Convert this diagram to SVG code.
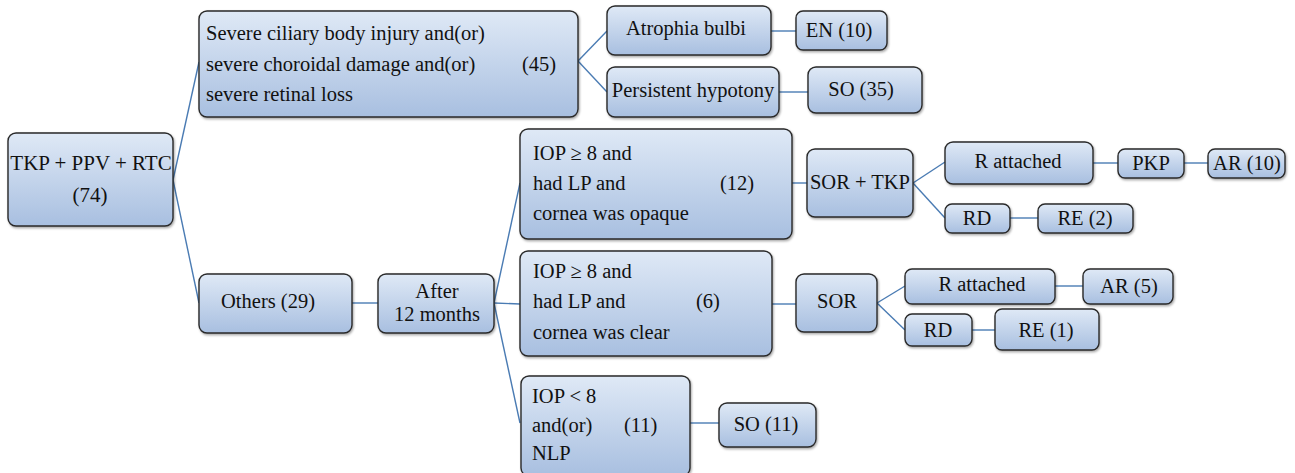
<svg xmlns="http://www.w3.org/2000/svg" width="1295" height="473" viewBox="0 0 1295 473">
<defs>
<linearGradient id="g" x1="0" y1="0" x2="0" y2="1">
<stop offset="0" stop-color="#dfe9f6"/>
<stop offset="1" stop-color="#a8bfe0"/>
</linearGradient>
<filter id="sh" x="-10%" y="-10%" width="130%" height="130%">
<feDropShadow dx="1" dy="1.5" stdDeviation="1" flood-color="#000" flood-opacity="0.35"/>
</filter>
</defs>
<style>
.b{fill:url(#g);stroke:#2a2a2a;stroke-width:1.4;filter:url(#sh)}
text{font-family:'Liberation Serif','Times New Roman',serif;font-size:20.5px;fill:#111}
.c{text-anchor:middle}
#connectors line{stroke:#4a7bb3;stroke-width:1.4}
</style>
<rect width="1295" height="473" fill="#fff"/>
<g id="connectors">
<line x1="173" y1="180" x2="199" y2="62"/>
<line x1="173" y1="180" x2="199" y2="303"/>
<line x1="578" y1="61" x2="607" y2="31"/>
<line x1="578" y1="61" x2="607" y2="92"/>
<line x1="771" y1="31" x2="796" y2="31"/>
<line x1="779" y1="92" x2="808" y2="92"/>
<line x1="352" y1="303" x2="378" y2="303"/>
<line x1="494" y1="303" x2="520" y2="183"/>
<line x1="494" y1="303" x2="520" y2="304"/>
<line x1="494" y1="303" x2="520" y2="423"/>
<line x1="792" y1="183" x2="807" y2="183"/>
<line x1="913" y1="183" x2="945" y2="162"/>
<line x1="913" y1="183" x2="945" y2="218"/>
<line x1="1093" y1="163" x2="1118" y2="163"/>
<line x1="1184" y1="163" x2="1208" y2="163"/>
<line x1="1010" y1="218" x2="1038" y2="218"/>
<line x1="772" y1="304" x2="796" y2="304"/>
<line x1="877" y1="303" x2="905" y2="286"/>
<line x1="877" y1="303" x2="905" y2="330"/>
<line x1="1055" y1="286" x2="1083" y2="286"/>
<line x1="972" y1="330" x2="995" y2="330"/>
<line x1="690" y1="423" x2="719" y2="423"/>
</g>
<g id="root"><rect class="b" x="8" y="133" width="165" height="93" rx="8"/><text class="c" x="91" y="170" style="font-size:21px">TKP + PPV + RTC</text><text class="c" x="90" y="202" style="font-size:21px">(74)</text></g>
<g id="severe"><rect class="b" x="199" y="11" width="379" height="106" rx="8"/>
<text x="206" y="40">Severe ciliary body injury and(or)</text>
<text x="206" y="71">severe choroidal damage and(or)</text>
<text x="206" y="101">severe retinal loss</text>
<text x="522" y="71">(45)</text></g>
<g id="atrophia"><rect class="b" x="607" y="6" width="164" height="49" rx="8"/><text class="c" x="686" y="35">Atrophia bulbi</text></g>
<g id="en10"><rect class="b" x="796" y="11" width="91" height="39" rx="7"/><text class="c" x="839" y="37">EN (10)</text></g>
<g id="hypotony"><rect class="b" x="607" y="67" width="172" height="50" rx="8"/><text class="c" x="693" y="97">Persistent hypotony</text></g>
<g id="so35"><rect class="b" x="808" y="67" width="114" height="46" rx="8"/><text class="c" x="861" y="96">SO (35)</text></g>
<g id="opaque"><rect class="b" x="520" y="129" width="272" height="110" rx="8"/>
<text x="533" y="160">IOP ≥ 8 and</text>
<text x="533" y="190">had LP and</text>
<text x="533" y="220">cornea was opaque</text>
<text x="720" y="190">(12)</text></g>
<g id="sortkp"><rect class="b" x="807" y="149" width="106" height="68" rx="8"/><text class="c" x="860" y="189">SOR + TKP</text></g>
<g id="rattached1"><rect class="b" x="945" y="142" width="148" height="42" rx="8"/><text class="c" x="1018" y="168">R attached</text></g>
<g id="pkp"><rect class="b" x="1118" y="149" width="66" height="29" rx="7"/><text class="c" x="1151" y="170">PKP</text></g>
<g id="ar10"><rect class="b" x="1208" y="149" width="77" height="29" rx="7"/><text class="c" x="1247" y="170">AR (10)</text></g>
<g id="rd1"><rect class="b" x="945" y="204" width="65" height="29" rx="7"/><text class="c" x="977" y="225">RD</text></g>
<g id="re2"><rect class="b" x="1038" y="204" width="95" height="29" rx="7"/><text class="c" x="1085" y="225">RE (2)</text></g>
<g id="others"><rect class="b" x="199" y="274" width="153" height="59" rx="8"/><text class="c" x="268" y="308">Others (29)</text></g>
<g id="after"><rect class="b" x="378" y="274" width="116" height="59" rx="8"/><text class="c" x="437" y="298">After</text><text class="c" x="437" y="321">12 months</text></g>
<g id="clear"><rect class="b" x="520" y="251" width="252" height="105" rx="8"/>
<text x="533" y="278">IOP ≥ 8 and</text>
<text x="533" y="308">had LP and</text>
<text x="533" y="339">cornea was clear</text>
<text x="696" y="308">(6)</text></g>
<g id="sor"><rect class="b" x="796" y="274" width="81" height="58" rx="8"/><text class="c" x="837" y="308">SOR</text></g>
<g id="rattached2"><rect class="b" x="905" y="269" width="150" height="35" rx="7"/><text class="c" x="982" y="291">R attached</text></g>
<g id="ar5"><rect class="b" x="1083" y="269" width="90" height="35" rx="7"/><text class="c" x="1129" y="293">AR (5)</text></g>
<g id="rd2"><rect class="b" x="905" y="314" width="67" height="32" rx="7"/><text class="c" x="938" y="337">RD</text></g>
<g id="re1"><rect class="b" x="995" y="309" width="104" height="41" rx="7"/><text class="c" x="1046" y="337">RE (1)</text></g>
<g id="lowiop"><rect class="b" x="521" y="376" width="169" height="100" rx="8"/>
<text x="532" y="403">IOP &lt; 8</text>
<text x="532" y="432">and(or)</text>
<text x="624" y="432">(11)</text>
<text x="532" y="460">NLP</text></g>
<g id="so11"><rect class="b" x="719" y="403" width="97" height="44" rx="8"/><text class="c" x="766" y="431">SO (11)</text></g>
</svg>
